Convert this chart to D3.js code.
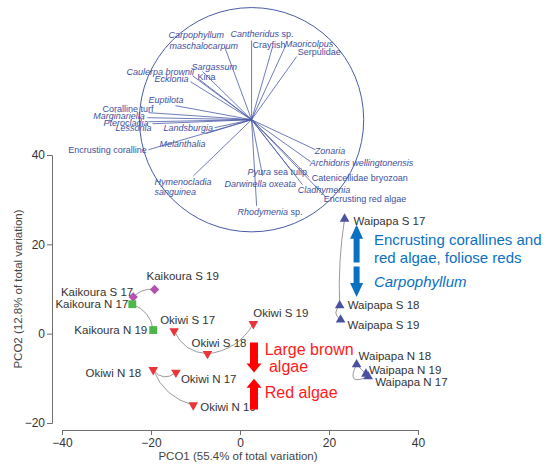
<!DOCTYPE html>
<html><head><meta charset="utf-8">
<script src="https://cdn.jsdelivr.net/npm/d3@7"></script>
<style>body{margin:0;background:#fff;} svg{display:block;font-family:"Liberation Sans",Arial,sans-serif;}</style>
</head><body><svg id="c" width="551" height="465"></svg>
<script>
// ---------- data ----------
const xTicks = [-40, -20, 0, 20, 40];
const yTicks = [-20, 0, 20, 40];
const xTitle = "PCO1 (55.4% of total variation)";
const yTitle = "PCO2 (12.8% of total variation)";

const sampleNames = ["Kaikoura S 17","Kaikoura S 19","Kaikoura N 17","Kaikoura N 19",
  "Okiwi S 17","Okiwi S 18","Okiwi S 19","Okiwi N 17","Okiwi N 18","Okiwi N 19",
  "Waipapa S 17","Waipapa S 18","Waipapa S 19","Waipapa N 17","Waipapa N 18","Waipapa N 19"];
const sampleGroup = ["KS","KS","KN","KN","OS","OS","OS","ON","ON","ON","WS","WS","WS","WN","WN","WN"];
const pco1 = [-24.0,-19.2,-24.2,-19.5,-14.8,-7.3,3.0,-14.4,-19.5,-10.5,23.5,22.4,22.6,28.8,26.2,28.3];
const pco2 = [8.2,9.9,6.6,0.8,0.6,-4.5,2.2,-8.7,-8.1,-16.0,25.7,6.3,3.1,-9.6,-6.9,-9.0];

const trajectories = [[0,1],[2,3],[4,5,6],[7,8,9],[10,11,12],[13,14,15]];

const vectorNames = ["Carpophyllum maschalocarpum","Cantheridus sp.","Crayfish","Maoricolpus","Serpulidae",
  "Sargassum","Kina","Caulerpa brownii","Ecklonia","Euptilota","Coralline turf","Marginariella",
  "Pterocladia","Lessonia","Landsburgia","Melanthalia","Encrusting coralline","Hymenocladia sanguinea",
  "Rhodymenia sp.","Darwinella oxeata","Pyura sea tulip","Zonaria","Archidoris wellingtonensis",
  "Catenicellidae bryozoan","Cladhymenia","Encrusting red algae"];
const vectorX = [-0.241,0.0,0.188,0.304,0.402,-0.438,-0.464,-0.527,-0.545,-0.679,-0.92,-0.929,
  -0.92,-0.884,-0.33,-0.41,-0.92,-0.518,0.045,0.098,0.348,0.571,0.527,0.509,0.455,0.66];
const vectorY = [0.652,0.705,0.652,0.661,0.563,0.429,0.357,0.393,0.339,0.125,0.063,0.018,
  -0.018,-0.036,-0.071,-0.125,-0.268,-0.5,-0.768,-0.5,-0.446,-0.268,-0.375,-0.509,-0.58,-0.688];

// label text pieces: [text, italic]
const vectorLabelParts = [
  [["Carpophyllum",1]],[["maschalocarpum",1]],[["Cantheridus",1],[" sp.",0]],[["Crayfish",0]],
  [["Maoricolpus",1]],[["Serpulidae",0]],[["Sargassum",1]],[["Caulerpa brownii",1]],[["Kina",0]],
  [["Ecklonia",1]],[["Euptilota",1]],[["Coralline turf",0]],[["Marginariella",1]],[["Pterocladia",1]],
  [["Lessonia",1]],[["Landsburgia",1]],[["Melanthalia",1]],[["Encrusting coralline",0]],
  [["Hymenocladia",1]],[["sanguinea",1]],[["Pyura",1],[" sea tulip",0]],[["Darwinella oxeata",1]],
  [["Rhodymenia",1],[" sp.",0]],[["Zonaria",1]],[["Archidoris wellingtonensis",1]],
  [["Catenicellidae bryozoan",0]],[["Cladhymenia",1]],[["Encrusting red algae",0]]];

const annotationTexts = ["Encrusting corallines and","red algae, foliose reds","Carpophyllum",
  "Large brown","algae","Red algae"];

// ---------- layout / style ----------
const circleCenter = [2.6, 47.9], circleRadius = 25.2; // in PCO units
const vectorLabelPos = [[-0.741,0.732],[-0.732,0.634],[-0.1875,0.741],[0.009,0.643],[0.295,0.652],
  [0.411,0.58],[-0.536,0.446],[-1.116,0.402],[-0.482,0.357],[-0.866,0.339],[-0.92,0.152],
  [-1.33,0.071],[-1.411,0.009],[-1.321,-0.054],[-1.214,-0.098],[-0.786,-0.098],[-0.821,-0.241],
  [-1.634,-0.295],[-0.866,-0.58],[-0.866,-0.67],[-0.036,-0.491],[-0.241,-0.603],[-0.125,-0.848],
  [0.5625,-0.304],[0.518,-0.411],[0.536,-0.545],[0.411,-0.652],[0.643,-0.732]];
const labelLayout = [ // dx, dy, anchor
  [0,-1,"end"],[-8,-9,"start"],[-4,4,"end"],[-6,4,"end"],[-14,-7,"start"],[-16,-7,"start"],
  [0,-7,"start"],[5,10,"start"],[-12,7,"end"],[7,6,"start"],[9,6,"start"],[8,3,"start"],
  [7,9,"start"],[7,9,"start"],[2,-4,"start"],[3,0,"start"]];
const trajBends = [[-0.25],[-0.3],[0.3,0.25],[-0.5,0.25],[0.05,0.6],[-1.4,0]];
const groupStyle = {
  KS:{shape:"diamond", color:"#b552b1"}, KN:{shape:"square", color:"#4cb747"},
  OS:{shape:"down", color:"#e8363a"}, ON:{shape:"down", color:"#e8363a"},
  WS:{shape:"up", color:"#4b51a0"}, WN:{shape:"up", color:"#4b51a0"}};
const annotationLayout = [ // x, y (PCO units), color, italic
  [30.1,19.9,"#0a70c2",0],[30.1,15.8,"#0a70c2",0],[30.1,10.5,"#0a70c2",1],
  [5.55,-4.7,"#ff1a1a",0],[6.5,-8.5,"#ff1a1a",0],[5.55,-14.4,"#ff1a1a",0]];
const arrows = [ // x, tail y, tip y (PCO units), color, shaft, head width, head length
  [26.2,15.95,24.4,"#0a70c2",6,13,14],[26.2,15.06,8.2,"#0a70c2",6,13,14],
  [3.15,-2.0,-8.7,"#ff0000",8,15,9],[3.15,-17.0,-10.1,"#ff0000",8,15,9]];
const vecColor = "#4a5ba6", vecText = "#3e4f9e";

// ---------- drawing ----------
const svg = d3.select("#c");
const x = d3.scaleLinear().domain([-40,40]).range([62,418]);
const y = d3.scaleLinear().domain([-20,40]).range([423,155]);

// vector overlay
const vx = d3.scaleLinear().domain([-1,1]).range([x(circleCenter[0]-circleRadius), x(circleCenter[0]+circleRadius)]);
const R = x(circleCenter[0]+circleRadius) - x(circleCenter[0]);
const cyPix = y(circleCenter[1]);
const vy = d3.scaleLinear().domain([-1,1]).range([cyPix + R, cyPix - R]);

const gv = svg.append("g");
gv.append("circle").attr("cx", vx(0)).attr("cy", vy(0)).attr("r", R)
  .attr("fill","none").attr("stroke", vecColor).attr("stroke-width",1);
gv.selectAll("line.v").data(vectorNames).join("line").attr("class","v")
  .attr("x1", vx(0)).attr("y1", vy(0))
  .attr("x2", (d,i)=>vx(vectorX[i])).attr("y2", (d,i)=>vy(vectorY[i]))
  .attr("stroke", vecColor).attr("stroke-width",0.8);
gv.selectAll("text.vl").data(vectorLabelParts).join("text").attr("class","vl")
  .attr("x",(d,i)=>vx(vectorLabelPos[i][0])).attr("y",(d,i)=>vy(vectorLabelPos[i][1]))
  .attr("font-size",9).attr("fill",vecText)
  .each(function(parts){
    const t = d3.select(this);
    parts.forEach(p=>t.append("tspan").text(p[0]).attr("font-style", p[1]?"italic":"normal"));
  });

// axes
const axCol = "#6e6e6e";
const gx = svg.append("g").attr("transform","translate(0,430)")
  .call(d3.axisBottom(x).tickValues(xTicks).tickSizeOuter(0).tickSize(5).tickPadding(3));
const gy = svg.append("g").attr("transform","translate(52,0)")
  .call(d3.axisLeft(y).tickValues(yTicks).tickSizeOuter(0).tickSize(5).tickPadding(2));
[gx,gy].forEach(g=>{
  g.select(".domain").attr("stroke",axCol);
  g.selectAll(".tick line").attr("stroke",axCol);
  g.selectAll(".tick text").attr("fill","#333").attr("font-size",12)
    .attr("font-family",'"Liberation Sans",Arial,sans-serif');
});
svg.append("text").attr("x",238).attr("y",460).attr("text-anchor","middle")
  .attr("font-size",11.5).attr("fill","#444").text(xTitle);
svg.append("text").attr("transform","translate(22,289) rotate(-90)").attr("text-anchor","middle")
  .attr("font-size",11.5).attr("fill","#444").text(yTitle);

// trajectories
const gt = svg.append("g");
trajectories.forEach((tr,k)=>{
  const p = d3.path();
  p.moveTo(x(pco1[tr[0]]), y(pco2[tr[0]]));
  for (let i=0;i<tr.length-1;i++){
    const x0=x(pco1[tr[i]]), y0=y(pco2[tr[i]]), x1=x(pco1[tr[i+1]]), y1=y(pco2[tr[i+1]]);
    const b = trajBends[k][i], dx=x1-x0, dy=y1-y0;
    p.quadraticCurveTo((x0+x1)/2 - dy*b, (y0+y1)/2 + dx*b, x1, y1);
  }
  gt.append("path").attr("d", p.toString()).attr("fill","none")
    .attr("stroke","#9a9a9a").attr("stroke-width",1);
});

// markers
const sym = {
  diamond: d3.symbol(d3.symbolSquare, 44)(),
  square: d3.symbol(d3.symbolSquare, 62)(),
  down: d3.symbol(d3.symbolTriangle, 40)(),
  up: d3.symbol(d3.symbolTriangle, 40)()
};
const rot = {diamond:45, square:0, down:180, up:0};
svg.append("g").selectAll("path").data(sampleNames).join("path")
  .attr("d",(d,i)=>sym[groupStyle[sampleGroup[i]].shape])
  .attr("transform",(d,i)=>`translate(${x(pco1[i])},${y(pco2[i])}) rotate(${rot[groupStyle[sampleGroup[i]].shape]})`)
  .attr("fill",(d,i)=>groupStyle[sampleGroup[i]].color);

// point labels
svg.append("g").selectAll("text").data(sampleNames).join("text")
  .attr("x",(d,i)=>x(pco1[i])+labelLayout[i][0]).attr("y",(d,i)=>y(pco2[i])+labelLayout[i][1])
  .attr("text-anchor",(d,i)=>labelLayout[i][2])
  .attr("font-size",11.5).attr("fill","#333").text(d=>d);

// annotation arrows
svg.append("g").selectAll("path").data(arrows).join("path")
  .attr("d", a=>{
    const px=x(a[0]), y0=y(a[1]), y1=y(a[2]), s=a[4]/2, h=a[5]/2, L=a[6];
    const dir = Math.sign(y1-y0), yb = y1 - dir*L;
    return d3.line()([[px-s,y0],[px-s,yb],[px-h,yb],[px,y1],[px+h,yb],[px+s,yb],[px+s,y0]]) + "Z";
  })
  .attr("fill", a=>a[3]);

svg.append("g").selectAll("text").data(annotationTexts).join("text")
  .attr("x",(d,i)=>x(annotationLayout[i][0])).attr("y",(d,i)=>y(annotationLayout[i][1]))
  .attr("fill",(d,i)=>annotationLayout[i][2])
  .attr("font-style",(d,i)=>annotationLayout[i][3]?"italic":"normal")
  .attr("font-size",(d,i)=>i<3?15:16).text(d=>d);
</script></body></html>
